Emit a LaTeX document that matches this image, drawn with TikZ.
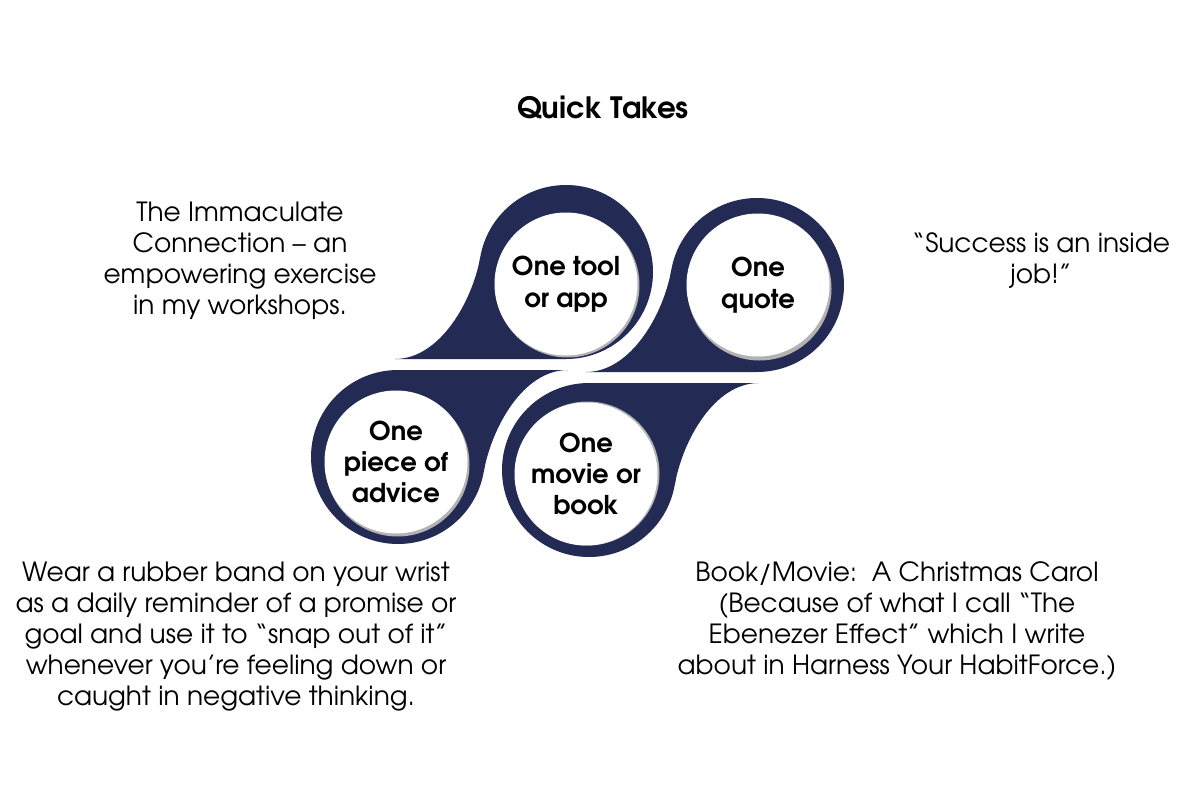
\documentclass[tikz,border=0pt]{standalone}
\usepackage{fontspec}
\setmainfont{texgyreadventor}[Extension=.otf, UprightFont=*-regular, BoldFont=*-bold]
\definecolor{navy}{HTML}{232B55}
\begin{document}
\begin{tikzpicture}[x=1bp,y=-1bp,
  drop/.style={fill=navy},
  shade/.style={fill=black!30},
  disc/.style={circle, fill=white, minimum size=143bp, inner sep=0pt, align=center,
    font=\fontsize{26}{31.5}\selectfont\bfseries},
  note/.style={align=center, font=\fontsize{26.5}{31}\selectfont}]
\useasboundingbox (0,0) rectangle (1200,800);
\fill[white] (0,0) rectangle (1200,800);

% title
\node[font=\fontsize{29.5}{34}\selectfont\bfseries] (title) at (603,107) {Quick Takes};

% top-left drop
\fill[drop] (566,272) circle[radius=87];
\fill[drop] (395,359) -- (566,359) -- (566,272) -- (480.3,256.9)
  .. controls (472.5,301) and (440,359) .. (395,359) -- cycle;
% top-right drop
\fill[drop] (757,285) circle[radius=87];
\fill[drop] (586,372) -- (757,372) -- (757,285) -- (671.3,269.9)
  .. controls (663.5,314) and (631,372) .. (586,372) -- cycle;
% bottom-left drop
\fill[drop] (398,457) circle[radius=87];
\fill[drop] (568,370) -- (398,370) -- (398,457) -- (483.7,472.1)
  .. controls (491.5,427.8) and (523,370) .. (568,370) -- cycle;
% bottom-right drop
\fill[drop] (589,470) circle[radius=87];
\fill[drop] (759,383) -- (589,383) -- (589,470) -- (674.7,485.1)
  .. controls (682.5,440.8) and (714,383) .. (759,383) -- cycle;

% shadows
\fill[shade] (567.5,285.5) circle[radius=72];
\fill[shade] (759.5,288.5) circle[radius=72];
\fill[shade] (397.5,464.5) circle[radius=72];
\fill[shade] (587.5,473.5) circle[radius=72];

% white discs
\node[disc] (tool) at (566,284) {One tool\\or app};
\node[disc] (quote) at (758,285) {One\\quote};
\node[disc] (advice) at (396,462) {One\\piece of\\advice};
\node[disc] (movie) at (586,474) {One\\movie or\\book};

% notes
\node[note] (n1) at (240,260.5) {The Immaculate\\Connection – an\\empowering exercise\\in my workshops.};
\node[note] (n2) at (1041,260.5) {“Success is an inside\\job!”};
\node[note] (n3) at (236,636.5) {Wear a rubber band on your wrist\\as a daily reminder of a promise or\\goal and use it to “snap out of it”\\whenever you’re feeling down or\\caught in negative thinking.};
\node[note] (n4) at (897,621) {Book/Movie:\ \ A Christmas Carol\\(Because of what I call “The\\Ebenezer Effect” which I write\\about in Harness Your HabitForce.)};
\end{tikzpicture}
\end{document}
